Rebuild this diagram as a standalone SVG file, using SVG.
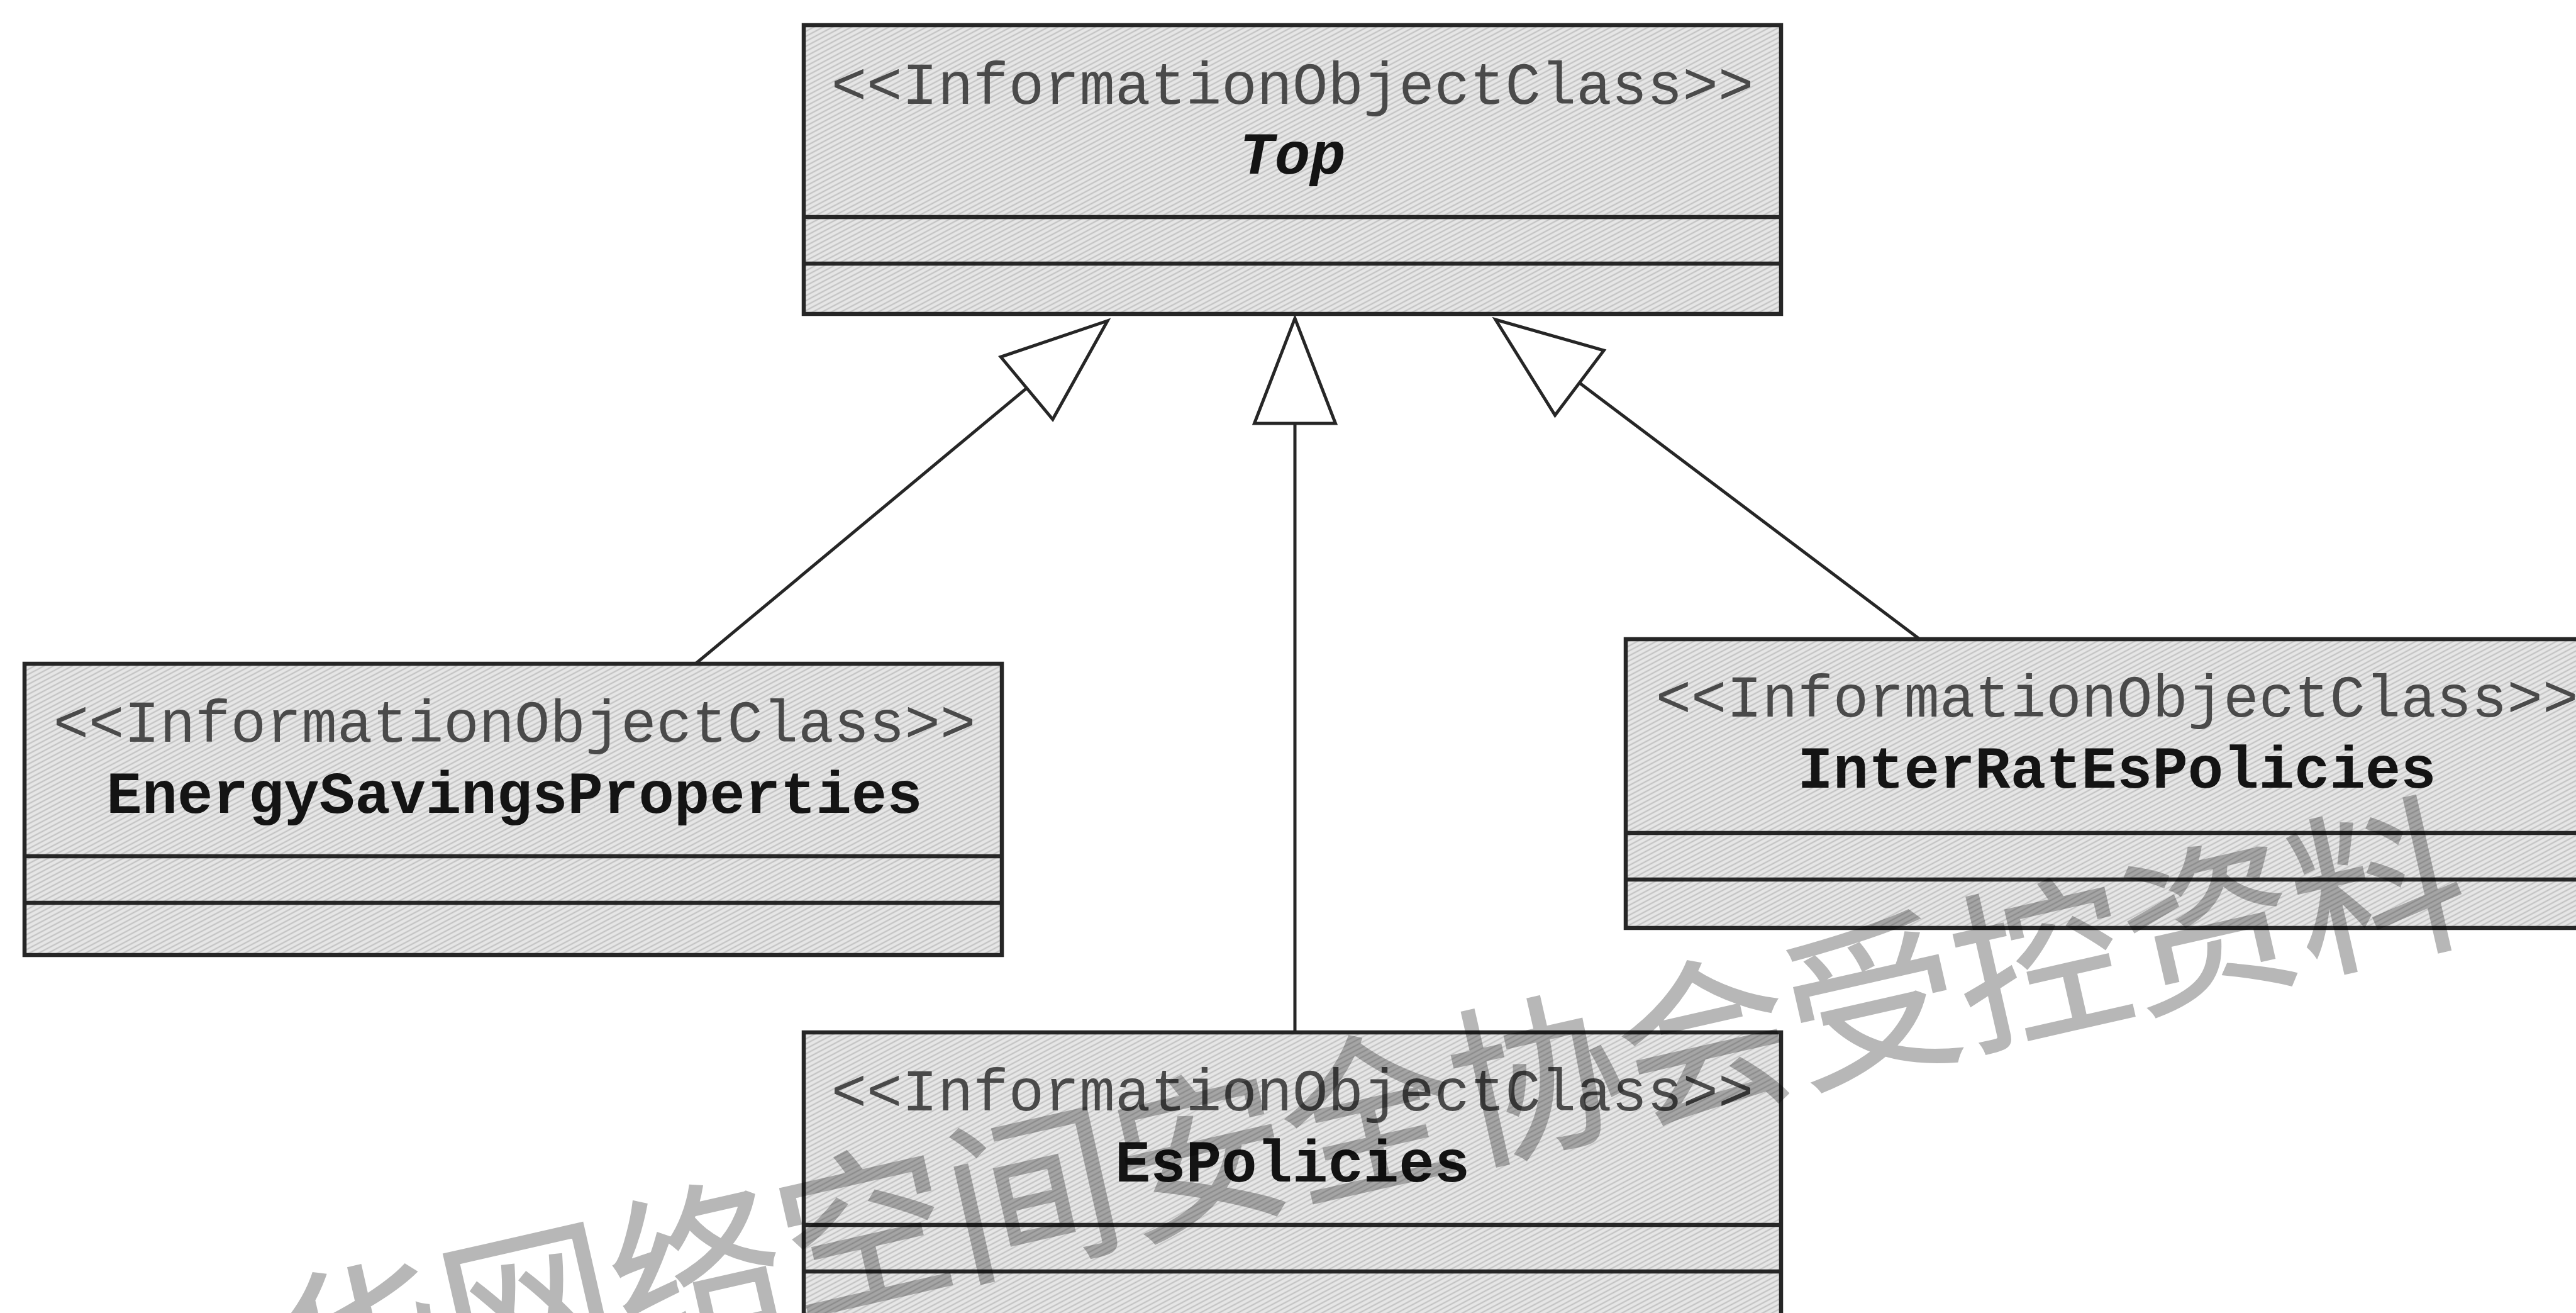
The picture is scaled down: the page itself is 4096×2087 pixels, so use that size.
<svg xmlns="http://www.w3.org/2000/svg" width="4096" height="2087" viewBox="0 0 4096 2087">
  <defs>
    <!-- fine diagonal hatching used as the class box fill -->
    <pattern id="hatch" width="7" height="7" patternUnits="userSpaceOnUse" patternTransform="rotate(-28)">
      <rect width="7" height="7" fill="#e6e6e6"/>
      <line x1="0" y1="1.5" x2="7" y2="1.5" stroke="#bfbfbf" stroke-width="2"/>
    </pattern>
    <style>
      .box { fill: url(#hatch); stroke: #262626; stroke-width: 6.5; }
      .sep { stroke: #262626; stroke-width: 6.5; }
      .stereo { font-family: "Liberation Mono", "Courier New", monospace; font-size: 94px; fill: #4a4a4a; text-anchor: middle; }
      .name { font-family: "Liberation Mono", "Courier New", monospace; font-size: 94px; font-weight: bold; fill: #141414; text-anchor: middle; }
      .edge { stroke: #262626; stroke-width: 5; fill: none; }
      .head { fill: #ffffff; stroke: #262626; stroke-width: 5; stroke-linejoin: miter; }
      .mark { font-family: "Noto Sans CJK SC", "Noto Sans CJK JP", sans-serif; font-size: 274px; fill: #000000; stroke: #000000; stroke-width: 2.5; stroke-linejoin: miter; }
    </style>
  </defs>

  <rect width="4096" height="2087" fill="#ffffff"/>

  <!-- generalization connectors -->
  <g id="connectors">
    <line class="edge" x1="1106" y1="1055" x2="1632.6" y2="616.9"/>
    <polygon class="head" points="1761,510 1673.9,666.5 1591.3,567.3"/>
    <line class="edge" x1="2059" y1="1641" x2="2059" y2="673"/>
    <polygon class="head" points="2059,506 2123.5,673 1994.5,673"/>
    <line class="edge" x1="3055" y1="1018" x2="2511.4" y2="608.5"/>
    <polygon class="head" points="2378,508 2550.2,557 2472.6,660"/>
  </g>

  <g id="node-top">
    <rect class="box" x="1278" y="40" width="1554" height="459"/>
    <line class="sep" x1="1278" y1="345" x2="2832" y2="345"/>
    <line class="sep" x1="1278" y1="419" x2="2832" y2="419"/>
    <text class="stereo" x="2055" y="165">&lt;&lt;InformationObjectClass&gt;&gt;</text>
    <text class="name" x="2055" y="276" font-style="italic">Top</text>
  </g>

  <g id="node-energy-savings-properties">
    <rect class="box" x="39" y="1055" width="1554" height="463"/>
    <line class="sep" x1="39" y1="1361" x2="1593" y2="1361"/>
    <line class="sep" x1="39" y1="1435" x2="1593" y2="1435"/>
    <text class="stereo" x="818" y="1179">&lt;&lt;InformationObjectClass&gt;&gt;</text>
    <text class="name" x="818" y="1292">EnergySavingsProperties</text>
  </g>

  <g id="node-inter-rat-es-policies">
    <rect class="box" x="2585" y="1016" width="1554" height="459"/>
    <line class="sep" x1="2585" y1="1324" x2="4139" y2="1324"/>
    <line class="sep" x1="2585" y1="1398" x2="4139" y2="1398"/>
    <text class="stereo" x="3366" y="1139">&lt;&lt;InformationObjectClass&gt;&gt;</text>
    <text class="name" x="3366" y="1252">InterRatEsPolicies</text>
  </g>

  <g id="node-es-policies">
    <rect class="box" x="1278" y="1641" width="1554" height="520"/>
    <line class="sep" x1="1278" y1="1947" x2="2832" y2="1947"/>
    <line class="sep" x1="1278" y1="2021" x2="2832" y2="2021"/>
    <text class="stereo" x="2055" y="1765">&lt;&lt;InformationObjectClass&gt;&gt;</text>
    <text class="name" x="2055" y="1878">EsPolicies</text>
  </g>

  <!-- control stamp across the lower half, translucent over everything -->
  <g id="watermark" opacity="0.28">
    <text class="mark" x="462" y="2268" transform="rotate(-12.8 462 2268)">华网络空间安全协会受控资料</text>
  </g>
</svg>
